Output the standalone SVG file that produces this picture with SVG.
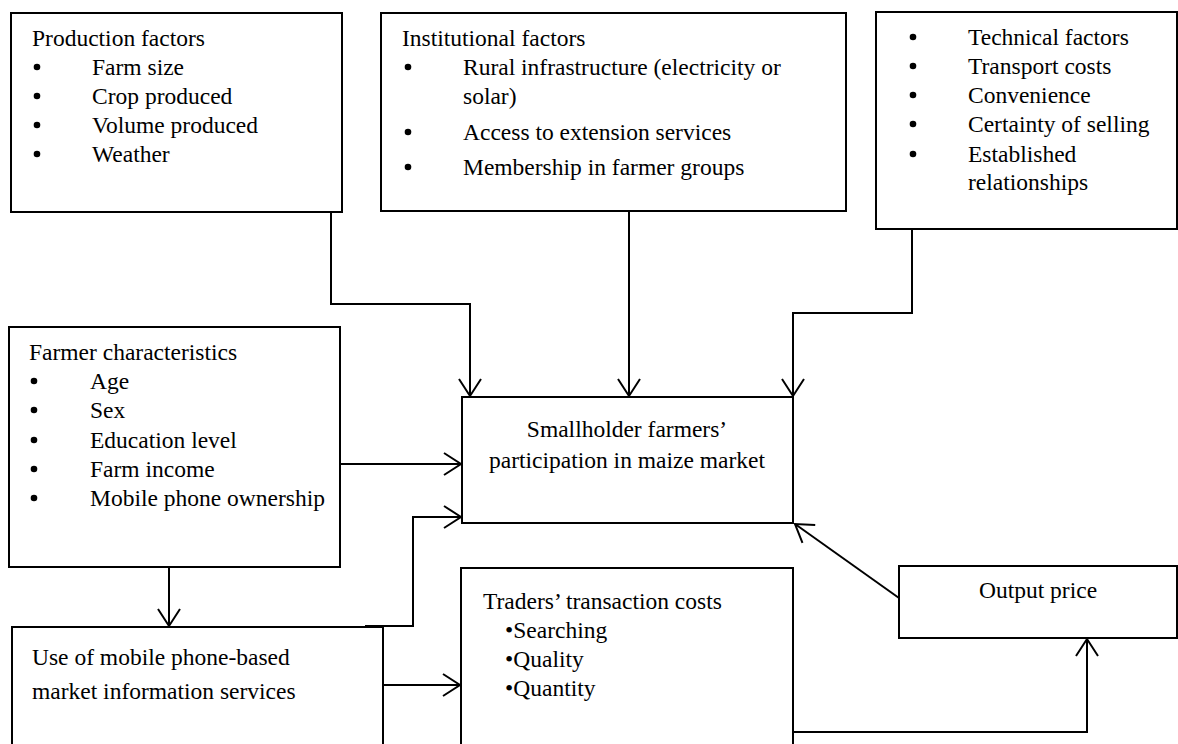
<svg xmlns="http://www.w3.org/2000/svg" width="1178" height="744" viewBox="0 0 1178 744">
<style>
.box{fill:#fff;stroke:#000;stroke-width:2}
.t{font-family:"Liberation Serif","Times New Roman",serif;font-size:23.5px;fill:#000}
.c{text-anchor:middle}
.dot{fill:#000}
.con{fill:none;stroke:#000;stroke-width:2}
</style>
<defs>
<marker id="ah" markerUnits="userSpaceOnUse" markerWidth="30" markerHeight="30" viewBox="-20 -15 30 30" refX="0" refY="0" orient="auto">
<path d="M-17,-11 L0,0 L-17,11" fill="none" stroke="#000" stroke-width="2"/>
</marker>
</defs>
<rect width="1178" height="744" fill="#fff"/>
<g id="production">
<rect class="box" x="11" y="13" width="331" height="199"/>
<text class="t" x="32" y="46">Production factors</text>
<circle class="dot" cx="37" cy="67" r="3.3"/><text class="t" x="92" y="75">Farm size</text>
<circle class="dot" cx="37" cy="96" r="3.3"/><text class="t" x="92" y="104">Crop produced</text>
<circle class="dot" cx="37" cy="125" r="3.3"/><text class="t" x="92" y="133">Volume produced</text>
<circle class="dot" cx="37" cy="154" r="3.3"/><text class="t" x="92" y="162">Weather</text>
</g>
<g id="institutional">
<rect class="box" x="381" y="13" width="465" height="198"/>
<text class="t" x="402" y="46">Institutional factors</text>
<circle class="dot" cx="408" cy="67" r="3.3"/><text class="t" x="463" y="75">Rural infrastructure (electricity or</text>
<text class="t" x="463" y="104">solar)</text>
<circle class="dot" cx="408" cy="132" r="3.3"/><text class="t" x="463" y="140">Access to extension services</text>
<circle class="dot" cx="408" cy="167" r="3.3"/><text class="t" x="463" y="175">Membership in farmer groups</text>
</g>
<g id="technical">
<rect class="box" x="876" y="12" width="301" height="217"/>
<circle class="dot" cx="913" cy="37" r="3.3"/><text class="t" x="968" y="45">Technical factors</text>
<circle class="dot" cx="913" cy="66" r="3.3"/><text class="t" x="968" y="74">Transport costs</text>
<circle class="dot" cx="913" cy="95" r="3.3"/><text class="t" x="968" y="103">Convenience</text>
<circle class="dot" cx="913" cy="124" r="3.3"/><text class="t" x="968" y="132">Certainty of selling</text>
<circle class="dot" cx="913" cy="154" r="3.3"/><text class="t" x="968" y="162">Established</text>
<text class="t" x="968" y="190">relationships</text>
</g>
<g id="farmer">
<rect class="box" x="9" y="327" width="331" height="240"/>
<text class="t" x="29" y="360">Farmer characteristics</text>
<circle class="dot" cx="34" cy="381" r="3.3"/><text class="t" x="90" y="389">Age</text>
<circle class="dot" cx="34" cy="410" r="3.3"/><text class="t" x="90" y="418">Sex</text>
<circle class="dot" cx="34" cy="440" r="3.3"/><text class="t" x="90" y="448">Education level</text>
<circle class="dot" cx="34" cy="469" r="3.3"/><text class="t" x="90" y="477">Farm income</text>
<circle class="dot" cx="34" cy="498" r="3.3"/><text class="t" x="90" y="506">Mobile phone ownership</text>
</g>
<g id="participation">
<rect class="box" x="462" y="397" width="331" height="126"/>
<text class="t c" x="627" y="437">Smallholder farmers’</text>
<text class="t c" x="627" y="468">participation in maize market</text>
</g>
<g id="mobile">
<rect class="box" x="12" y="627" width="371" height="130"/>
<text class="t" x="32" y="665">Use of mobile phone-based</text>
<text class="t" x="32" y="699">market information services</text>
</g>
<g id="traders">
<rect class="box" x="461" y="568" width="332" height="190"/>
<text class="t" x="483" y="609">Traders’ transaction costs</text>
<text class="t" x="505" y="638">•Searching</text>
<text class="t" x="505" y="667">•Quality</text>
<text class="t" x="505" y="696">•Quantity</text>
</g>
<g id="output">
<rect class="box" x="899" y="566" width="278" height="72"/>
<text class="t c" x="1038" y="598">Output price</text>
</g>
<g id="connectors">
<path class="con" d="M331,212 V304 H470 V396" marker-end="url(#ah)"/>
<path class="con" d="M629,211 V396" marker-end="url(#ah)"/>
<path class="con" d="M912,229 V313 H793 V396" marker-end="url(#ah)"/>
<path class="con" d="M340,464 H461" marker-end="url(#ah)"/>
<path class="con" d="M169,567 V626" marker-end="url(#ah)"/>
<path class="con" d="M365,626 H413 V517 H461" marker-end="url(#ah)"/>
<path class="con" d="M383,685 H460" marker-end="url(#ah)"/>
<path class="con" d="M793,732 H1087 V639" marker-end="url(#ah)"/>
<path class="con" d="M899,598 L795,524" marker-end="url(#ah)"/>
</g>
</svg>
